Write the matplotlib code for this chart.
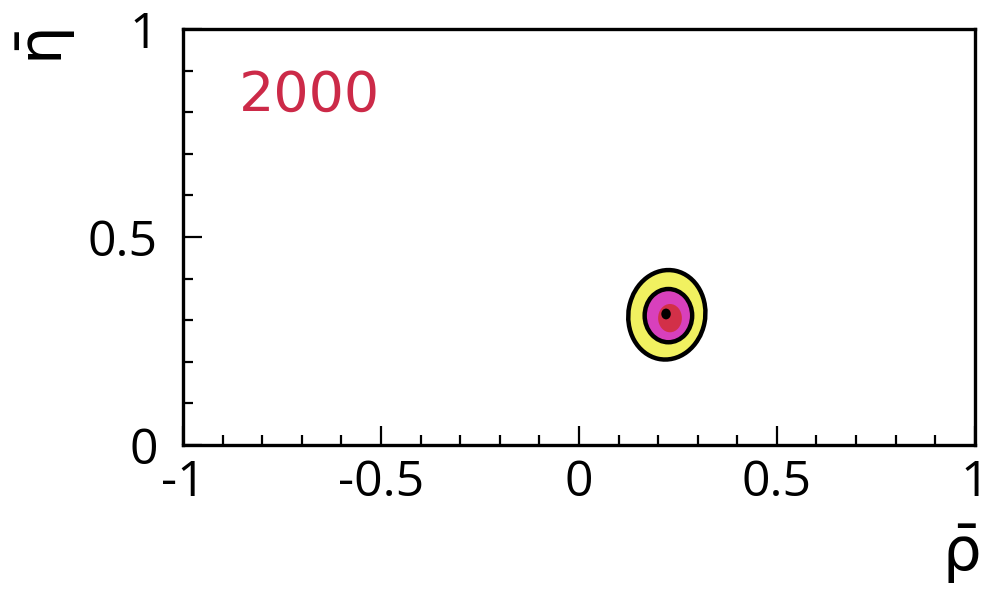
import matplotlib
matplotlib.use("Agg")
import matplotlib.pyplot as plt
from matplotlib.patches import Ellipse
from matplotlib.ticker import MultipleLocator

plt.rcParams["font.family"] = ["Open Sans", "DejaVu Sans"]
plt.rcParams["mathtext.fontset"] = "dejavusans"

# fit result (rho-bar, eta-bar) and nested confidence contours
rho_center = 0.222
eta_center = 0.313
ring_offsets_rho = [0.0, 0.004, 0.008, -0.002]
ring_offsets_eta = [0.0, -0.002, -0.008, 0.002]
ring_half_width = [0.097, 0.060, 0.030, 0.012]
ring_half_height = [0.108, 0.064, 0.034, 0.013]
ring_angles = [-12, 0, 0, 0]
ring_colors = ["#f1f160", "#d840bc", "#d23048", "#000000"]
ring_edges = ["black", "black", "none", "none"]

year_label = "2000"
xticks = [-1, -0.5, 0, 0.5, 1]
yticks = [0, 0.5, 1]
xtick_labels = ["-1", "-0.5", "0", "0.5", "1"]
ytick_labels = ["0", "0.5", "1"]

fig = plt.figure(figsize=(9.91, 5.97), dpi=100)
ax = fig.add_axes([0.1847, 0.2546, 0.799, 0.6968])

for dx, dy, w, h, a, c, e in zip(ring_offsets_rho, ring_offsets_eta, ring_half_width,
                                 ring_half_height, ring_angles, ring_colors, ring_edges):
    ax.add_patch(Ellipse((rho_center + dx, eta_center + dy), 2 * w, 2 * h, angle=a,
                         facecolor=c, edgecolor=e, lw=3.2, zorder=3))

ax.set_xlim(-1, 1)
ax.set_ylim(0, 1)
ax.set_xticks(xticks)
ax.set_xticklabels(xtick_labels)
ax.set_yticks(yticks)
ax.set_yticklabels(ytick_labels)
ax.xaxis.set_minor_locator(MultipleLocator(0.1))
ax.yaxis.set_minor_locator(MultipleLocator(0.1))
ax.tick_params(which="both", direction="in", top=False, right=False, width=1.6)
ax.tick_params(which="major", length=14, labelsize=36)
ax.tick_params(which="minor", length=7)
ax.tick_params(axis="x", which="major", pad=10)
ax.tick_params(axis="y", which="major", pad=18)
for s in ax.spines.values():
    s.set_linewidth(2.4)

ax.text(-0.86, 0.84, year_label, color="#cc2a48", fontsize=40, va="center", ha="left",
        family="DejaVu Sans")

fig.text(0.047, 0.921, r"$\bar{\mathrm{\eta}}$", fontsize=44, rotation=90, ha="center", va="center")
fig.text(0.969, 0.072, r"$\bar{\mathrm{\rho}}$", fontsize=44, ha="center", va="center")

fig.savefig("out.png", dpi=100)
